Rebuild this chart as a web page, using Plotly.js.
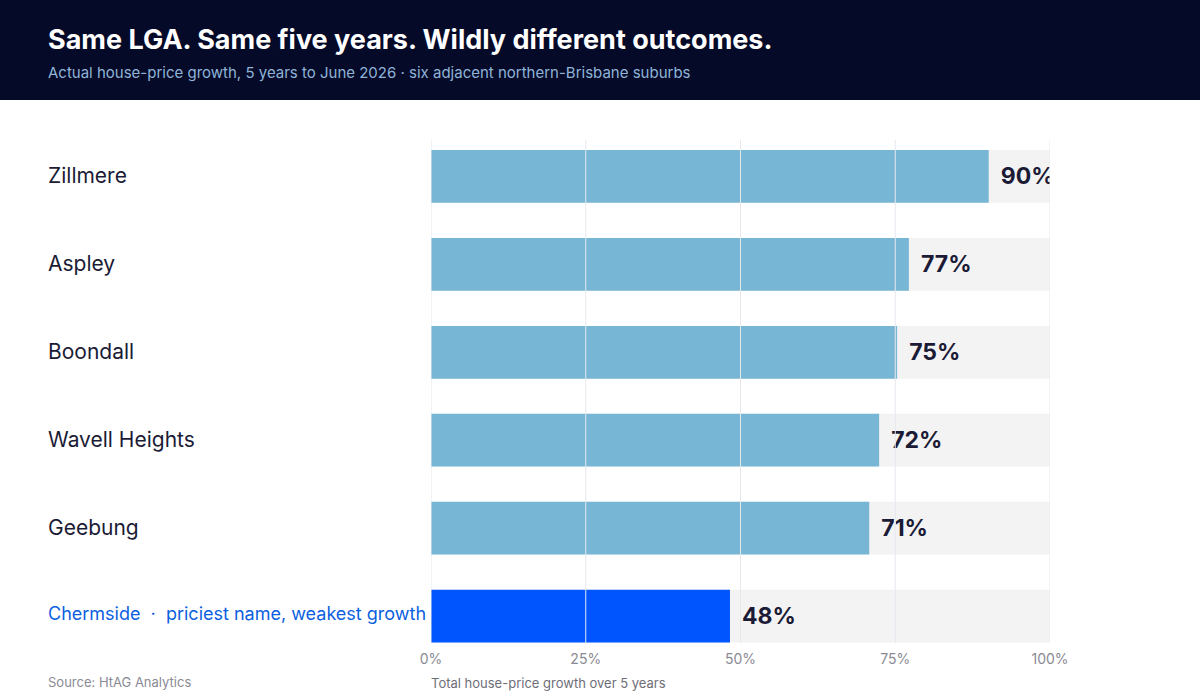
<!DOCTYPE html>
<html>
<head>
<meta charset="utf-8">
<script src="https://cdn.plot.ly/plotly-3.0.1.min.js"></script>
<style>
  html, body { margin: 0; padding: 0; background: #ffffff; }
  #chart { width: 1200px; height: 700px; }
</style>
</head>
<body>
<div id="chart"></div>
<script>
// ---- data ----
const suburbs = ["Zillmere", "Aspley", "Boondall", "Wavell Heights", "Geebung", "Chermside"];
const growth = [90.1, 77.2, 75.3, 72.4, 70.8, 48.3];
const highlight = "Chermside";
const highlightNote = "priciest name, weakest growth";
const trackMax = 100;
const tickVals = [0, 25, 50, 75, 100];
const tickText = ["0%", "25%", "50%", "75%", "100%"];

const titleText = "Same LGA. Same five years. Wildly different outcomes.";
const subtitleText = "Actual house-price growth, 5 years to June 2026 · six adjacent northern-Brisbane suburbs";
const sourceText = "Source: HtAG Analytics";
const xTitleText = "Total house-price growth over 5 years";

// ---- layout constants ----
const W = 1200, H = 700;
const L = 431, R = 150, T = 140, B = 57;
const plotW = W - L - R, plotH = H - T - B;
const px2x = p => (p - L) / plotW;         // page px -> paper x
const py2y = p => 1 - (p - T) / plotH;     // page px -> paper y

const FONT = "Inter, 'Noto Sans', sans-serif";
const barColor = "#78b6d6";
const hiColor = "#0055ff";
const gridColor = "#e6e8ee";

const colors = suburbs.map(s => s === highlight ? hiColor : barColor);

const track = {
  type: "bar", orientation: "h",
  y: suburbs, x: suburbs.map(() => trackMax),
  marker: { color: "#f3f3f4", line: { width: 0 } },
  width: 0.6, hoverinfo: "skip", showlegend: false
};

const bars = {
  type: "bar", orientation: "h",
  y: suburbs, x: growth,
  marker: { color: colors, line: { width: 0 } },
  width: 0.6,
  text: growth.map(v => "\u00a0\u2009" + Math.round(v) + "%"),
  textposition: "outside",
  constraintext: "none",
  cliponaxis: true,
  textfont: { family: FONT, size: 23, color: "#1b1b36", weight: 700 },
  hoverinfo: "skip", showlegend: false
};

const annotations = [];
suburbs.forEach(s => {
  const isHi = s === highlight;
  annotations.push({
    xref: "paper", yref: "y", x: px2x(46), y: s,
    xanchor: "left", yanchor: "middle", showarrow: false,
    yshift: isHi ? 3 : 1,
    text: isHi ? s + "  \u00b7  " + highlightNote : s,
    font: { family: FONT, size: isHi ? 18 : 21, color: isHi ? "#0b5fe0" : "#1b1b36" }
  });
});
annotations.push({
  xref: "paper", yref: "paper", x: px2x(46), y: py2y(40),
  xanchor: "left", yanchor: "middle", showarrow: false,
  text: "<b>" + titleText + "</b>",
  font: { family: FONT, size: 27, color: "#ffffff" }
});
annotations.push({
  xref: "paper", yref: "paper", x: px2x(46), y: py2y(73),
  xanchor: "left", yanchor: "middle", showarrow: false,
  text: subtitleText,
  font: { family: FONT, size: 15, color: "#8fb4d8" }
});
annotations.push({
  xref: "paper", yref: "paper", x: px2x(46), y: py2y(682),
  xanchor: "left", yanchor: "middle", showarrow: false,
  text: sourceText,
  font: { family: FONT, size: 13, color: "#8a8a94" }
});
annotations.push({
  xref: "paper", yref: "paper", x: px2x(429), y: py2y(683),
  xanchor: "left", yanchor: "middle", showarrow: false,
  text: xTitleText,
  font: { family: FONT, size: 13, color: "#6e6e78" }
});

const shapes = [{
  type: "rect", xref: "paper", yref: "paper",
  x0: px2x(0), x1: px2x(W), y0: py2y(100), y1: py2y(0),
  fillcolor: "#050a28", line: { width: 0 }, layer: "below"
}];
tickVals.forEach(v => {
  shapes.push({
    type: "line", xref: "x", yref: "paper",
    x0: v, x1: v, y0: 0, y1: 1,
    line: { color: gridColor, width: 1 }, layer: "above"
  });
});

const layout = {
  width: W, height: H,
  margin: { l: L, r: R, t: T, b: B, pad: 0 },
  paper_bgcolor: "#ffffff", plot_bgcolor: "#ffffff",
  barmode: "overlay",
  font: { family: FONT },
  xaxis: {
    range: [0, 100], fixedrange: true,
    tickvals: tickVals, ticktext: tickText,
    showgrid: false, zeroline: false, showline: false, ticks: "",
    ticklabelstandoff: 6,
    tickfont: { family: FONT, size: 14, color: "#8a8a94" }
  },
  yaxis: {
    type: "category", categoryorder: "array", categoryarray: suburbs,
    range: [5.307, -0.415], fixedrange: true,
    showticklabels: false, showgrid: false, zeroline: false, ticks: ""
  },
  shapes: shapes,
  annotations: annotations
};

Plotly.newPlot("chart", [track, bars], layout, { displayModeBar: false, staticPlot: true });
</script>
</body>
</html>
